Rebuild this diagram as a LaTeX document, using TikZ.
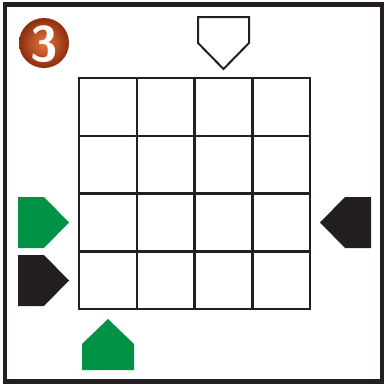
\documentclass[tikz,border=0pt]{standalone}
\usepackage{tikz}
\usepackage{xcolor}
\definecolor{fieldgreen}{RGB}{0,146,69}
\definecolor{fieldblack}{RGB}{35,31,32}
\definecolor{ballin}{RGB}{232,120,60}
\definecolor{ballout}{RGB}{140,45,15}

\begin{document}
\begin{tikzpicture}[x=1pt, y=-1pt]

\useasboundingbox (0,0) rectangle (384,389);

% frame
\draw[fieldblack, line width=4.5pt] (5,4.5) rectangle (382,381.5);

% number ball
\shade[inner color=ballin, outer color=ballout] (44,43) circle (25);
\node[text=white, font=\sffamily\bfseries\fontsize{50}{50}\selectfont] (num) at (44,44) {3};

% grid 4x4
\draw[fieldblack, line width=2.5pt] (79,78) rectangle (310,309);
\draw[fieldblack, line width=2.5pt] (136.75,78) -- (136.75,309);
\draw[fieldblack, line width=2.5pt] (194.5,78) -- (194.5,309);
\draw[fieldblack, line width=2.5pt] (252.25,78) -- (252.25,309);
\draw[fieldblack, line width=2.5pt] (79,135.75) -- (310,135.75);
\draw[fieldblack, line width=2.5pt] (79,193.5) -- (310,193.5);
\draw[fieldblack, line width=2.5pt] (79,251.25) -- (310,251.25);

% top: white home plate
\draw[fieldblack, fill=white, line width=2pt] (198,17) -- (249,17) -- (249,43) -- (223.5,69) -- (198,43) -- cycle;

% left: green and black
\fill[fieldgreen] (18,197) -- (44,197) -- (69,222.5) -- (44,248) -- (18,248) -- cycle;
\fill[fieldblack] (18,255) -- (44,255) -- (69,280.5) -- (44,306) -- (18,306) -- cycle;

% right: black
\fill[fieldblack] (371,197) -- (345,197) -- (320,222.5) -- (345,248) -- (371,248) -- cycle;

% bottom: green
\fill[fieldgreen] (82,370) -- (82,344) -- (108,319) -- (134,344) -- (134,370) -- cycle;

\end{tikzpicture}
\end{document}
